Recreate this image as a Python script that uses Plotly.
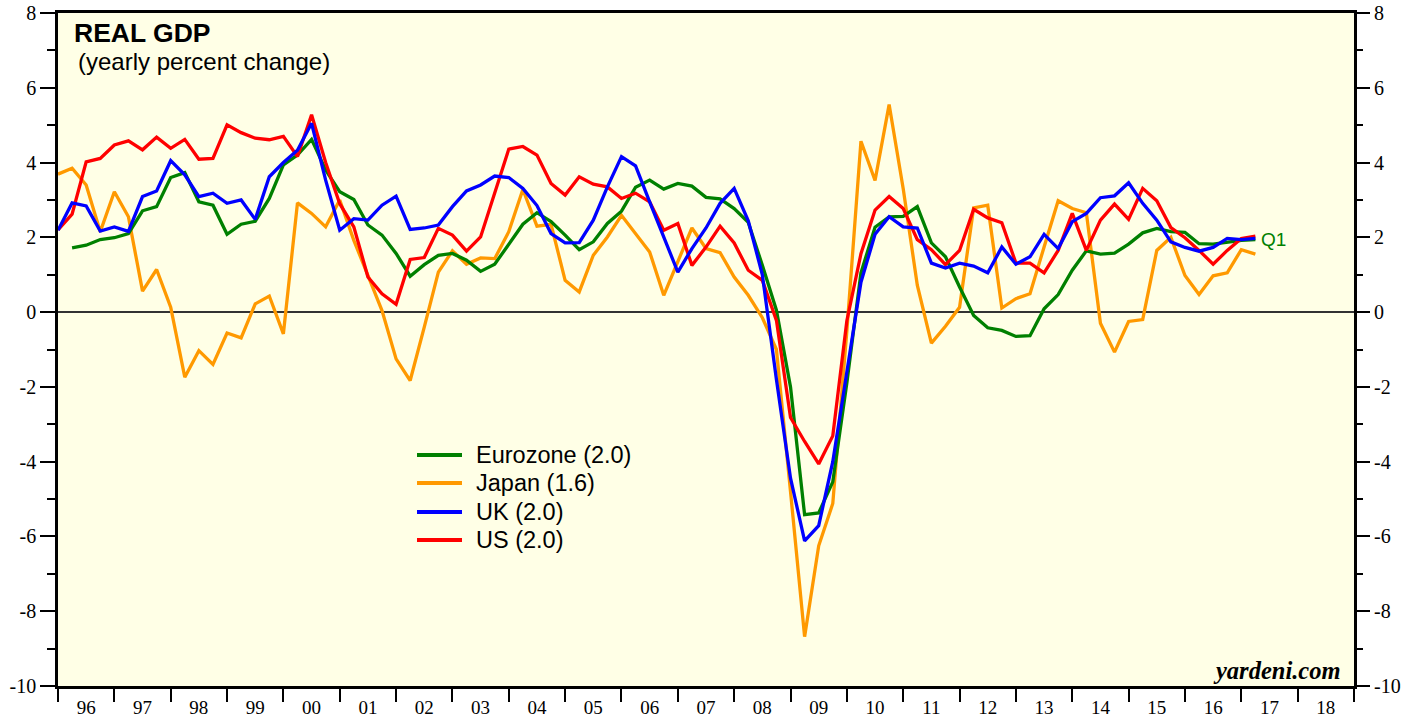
import pandas as pd
import plotly.graph_objects as go

# Quarterly observations, 1995Q4 .. 2017Q1 (plotted at quarter end)
quarters = pd.period_range("1995Q4", "2017Q1", freq="Q")

eurozone = [None, 1.72, 1.79, 1.94, 1.99, 2.10, 2.71, 2.82, 3.60, 3.73, 2.95, 2.86, 2.08, 2.35, 2.43, 3.04,
            3.94, 4.20, 4.62, 3.80, 3.22, 3.01, 2.33, 2.06, 1.57, 0.96, 1.27, 1.52, 1.57, 1.39, 1.09,
            1.28, 1.83, 2.35, 2.66, 2.42, 2.06, 1.67, 1.88, 2.37, 2.70, 3.34, 3.53, 3.29, 3.44, 3.37,
            3.07, 3.03, 2.77, 2.40, 1.25, 0.05, -2.00, -5.42, -5.37, -4.54, -1.89, 1.05, 2.27, 2.55,
            2.56, 2.82, 1.85, 1.48, 0.67, -0.09, -0.42, -0.49, -0.65, -0.63, 0.09, 0.47, 1.12, 1.64,
            1.55, 1.58, 1.82, 2.12, 2.24, 2.15, 2.13, 1.83, 1.82, 1.88, 1.92, 1.94]
japan = [3.69, 3.85, 3.40, 2.15, 3.22, 2.55, 0.56, 1.14, 0.13, -1.74, -1.03, -1.40, -0.56, -0.69, 0.22, 0.43,
         -0.58, 2.92, 2.64, 2.28, 3.00, 1.92, 0.98, 0.04, -1.25, -1.83, -0.40, 1.07, 1.64, 1.28, 1.45,
         1.43, 2.15, 3.28, 2.30, 2.35, 0.85, 0.54, 1.52, 2.01, 2.59, 2.10, 1.61, 0.45, 1.34, 2.25,
         1.70, 1.59, 0.94, 0.45, -0.15, -1.00, -4.80, -8.68, -6.25, -5.12, -0.50, 4.57, 3.52, 5.55,
         3.30, 0.72, -0.83, -0.38, 0.13, 2.79, 2.86, 0.11, 0.36, 0.49, 1.74, 2.98, 2.77, 2.66,
         -0.30, -1.07, -0.25, -0.20, 1.65, 2.00, 0.98, 0.47, 0.97, 1.05, 1.67, 1.55]
uk = [2.19, 2.92, 2.84, 2.17, 2.28, 2.16, 3.09, 3.24, 4.05, 3.67, 3.09, 3.18, 2.91, 3.00, 2.48, 3.62,
      4.00, 4.33, 5.05, 3.53, 2.19, 2.50, 2.46, 2.86, 3.10, 2.21, 2.25, 2.33, 2.82, 3.24, 3.40,
      3.64, 3.60, 3.31, 2.85, 2.10, 1.85, 1.86, 2.46, 3.35, 4.16, 3.91, 2.95, 2.01, 1.07, 1.70,
      2.25, 2.91, 3.31, 2.44, 1.00, -1.80, -4.44, -6.12, -5.71, -4.00, -1.60, 0.80, 2.08, 2.55,
      2.28, 2.25, 1.31, 1.18, 1.31, 1.23, 1.05, 1.74, 1.28, 1.48, 2.08, 1.70, 2.42, 2.64,
      3.06, 3.11, 3.46, 2.91, 2.46, 1.88, 1.73, 1.63, 1.73, 1.97, 1.94, 1.97]
us = [2.20, 2.62, 4.02, 4.11, 4.47, 4.58, 4.34, 4.68, 4.38, 4.62, 4.09, 4.11, 5.01, 4.80, 4.65, 4.61,
      4.70, 4.16, 5.28, 4.00, 2.90, 2.28, 0.94, 0.49, 0.21, 1.41, 1.46, 2.24, 2.06, 1.63, 2.01,
      3.18, 4.36, 4.43, 4.20, 3.44, 3.13, 3.62, 3.42, 3.35, 3.04, 3.18, 2.95, 2.19, 2.37, 1.25,
      1.74, 2.30, 1.85, 1.12, 0.85, -0.22, -2.82, -3.46, -4.06, -3.31, -0.23, 1.56, 2.73, 3.09,
      2.77, 1.94, 1.67, 1.27, 1.65, 2.75, 2.52, 2.39, 1.31, 1.31, 1.05, 1.65, 2.64, 1.65,
      2.46, 2.89, 2.48, 3.31, 2.98, 2.26, 1.99, 1.65, 1.28, 1.65, 1.97, 2.03]

series_names = ["Eurozone (2.0)", "Japan (1.6)", "UK (2.0)", "US (2.0)"]
series_colors = ["#008000", "#FF9900", "#0000FF", "#FF0000"]
series_values = [eurozone, japan, uk, us]

year_labels = ["96", "97", "98", "99", "00", "01", "02", "03", "04", "05", "06", "07",
               "08", "09", "10", "11", "12", "13", "14", "15", "16", "17", "18"]
first_year = 1996
y_tick_values = [-10, -8, -6, -4, -2, 0, 2, 4, 6, 8]
y_tick_labels = ["-10", "-8", "-6", "-4", "-2", "0", "2", "4", "6", "8"]

x = [p.year + p.quarter / 4 for p in quarters]

fig = go.Figure()
draw_order = [1, 0, 3, 2]  # Japan, Eurozone, US, UK
for k in draw_order:
    fig.add_trace(go.Scatter(x=x, y=series_values[k], mode="lines", name=series_names[k],
                             line=dict(color=series_colors[k], width=3.3), showlegend=False))
# invisible copy on the right-hand axis so that it gets drawn
fig.add_trace(go.Scatter(x=x, y=us, yaxis="y2", mode="lines", line=dict(width=0),
                         opacity=0, hoverinfo="skip", showlegend=False))

# axis geometry in pixels
W, H = 1421, 719
L, R, T, B = 58, 1354, 13, 686
def px_x(p):
    return (p - L) / (R - L)
def px_y(p):
    return (B - p) / (B - T)

serif = "Liberation Serif"
sans = "Liberation Sans"

n_years = len(year_labels)
ycommon = dict(
    range=[-10, 8], automargin=False,
    tickmode="array", tickvals=y_tick_values, ticktext=y_tick_labels,
    ticks="outside", ticklen=15, tickwidth=1.5, tickcolor="black",
    minor=dict(tickmode="array", tickvals=list(range(-9, 8, 2)),
               ticks="outside", ticklen=8, tickwidth=1.5, tickcolor="black"),
    showgrid=False,
    tickfont=dict(family=serif, size=20, color="black"),
)
fig.update_layout(
    width=W, height=H,
    margin=dict(l=L, r=W - R, t=T, b=H - B, autoexpand=False),
    paper_bgcolor="white",
    plot_bgcolor="#FFFFE6",
    showlegend=False,
    xaxis=dict(
        range=[first_year, first_year + n_years], automargin=False,
        tickmode="array",
        tickvals=[first_year + i + 0.5 for i in range(n_years)],
        ticktext=year_labels,
        ticks="outside", ticklen=2, tickcolor="rgba(0,0,0,0)",
        minor=dict(tickmode="array", tickvals=list(range(first_year, first_year + n_years + 1)),
                   ticks="outside", ticklen=13, tickwidth=2, tickcolor="black"),
        showline=True, linecolor="black", linewidth=2.5, mirror=True,
        showgrid=False, zeroline=False,
        tickfont=dict(family=serif, size=19, color="black"),
    ),
    yaxis=dict(**ycommon, showline=True, linecolor="black", linewidth=2.5, mirror=True,
               zeroline=True, zerolinecolor="#333333", zerolinewidth=2),
    yaxis2=dict(**ycommon, overlaying="y", side="right", showline=False, zeroline=False),
)

annotations = [
    dict(text="<b>REAL GDP</b>", x=px_x(72), y=px_y(33), xanchor="left", yanchor="middle",
         font=dict(family=sans, size=26.5, color="black")),
    dict(text="(yearly percent change)", x=px_x(76), y=px_y(62), xanchor="left", yanchor="middle",
         font=dict(family=sans, size=24, color="black")),
    dict(text="<b><i>yardeni.com</i></b>", x=px_x(1343), y=px_y(670), xanchor="right", yanchor="middle",
         font=dict(family=serif, size=24.5, color="black")),
    dict(text="Q1", x=px_x(1259), y=px_y(239), xanchor="left", yanchor="middle",
         font=dict(family=sans, size=19, color=series_colors[0])),
]
shapes = []
legend_rows = [455, 483, 512, 540]
for name, color, yrow in zip(series_names, series_colors, legend_rows):
    shapes.append(dict(type="line", xref="paper", yref="paper",
                       x0=px_x(417), x1=px_x(462), y0=px_y(yrow), y1=px_y(yrow),
                       line=dict(color=color, width=4)))
    annotations.append(dict(text=name, x=px_x(474), y=px_y(yrow), xanchor="left", yanchor="middle",
                            font=dict(family=sans, size=23.5, color="black")))
for a in annotations:
    a.update(xref="paper", yref="paper", showarrow=False)
fig.update_layout(annotations=annotations, shapes=shapes)

fig.write_html("out.html", config={"displayModeBar": False},
               post_script="document.body.style.margin='0';document.body.style.padding='0';")
